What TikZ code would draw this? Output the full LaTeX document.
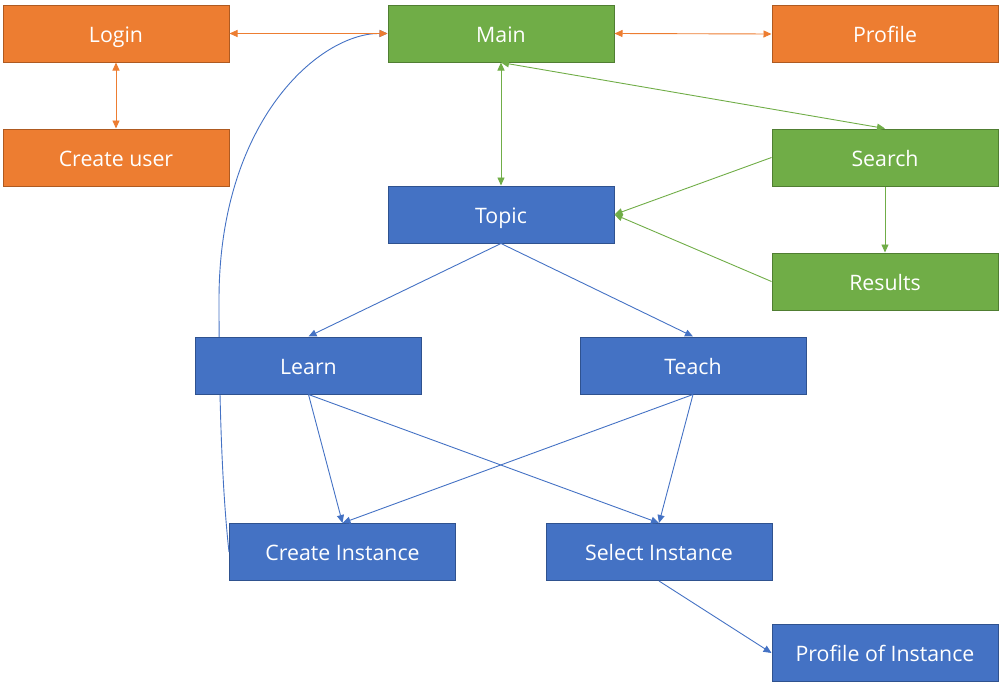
\documentclass[tikz,border=0pt]{standalone}
\usepackage{fontspec}
\setmainfont{Open Sans}
\usetikzlibrary{arrows.meta}
\definecolor{org}{HTML}{ED7D31}
\definecolor{orgd}{HTML}{AE5A21}
\definecolor{grn}{HTML}{70AD47}
\definecolor{grnd}{HTML}{507E32}
\definecolor{blu}{HTML}{4472C4}
\definecolor{blud}{HTML}{2F528F}
\tikzset{
  box/.style={rectangle, minimum width=226pt, minimum height=57pt, inner sep=0pt,
    text=white, font=\fontsize{21.3}{25}\selectfont, text height=17pt, text depth=0pt, line width=1pt},
  obox/.style={box, fill=org, draw=orgd},
  gbox/.style={box, fill=grn, draw=grnd},
  bbox/.style={box, fill=blu, draw=blud},
  conn/.style={line width=0.9pt, -{Triangle[length=8pt,width=7pt]}},
  dconn/.style={line width=0.9pt, {Triangle[length=8pt,width=7pt]}-{Triangle[length=8pt,width=7pt]}},
}
\begin{document}
\begin{tikzpicture}[x=1pt,y=-1pt]
\useasboundingbox (0,0) rectangle (1005,688);
\coordinate (mid) at (219,300);
\node[obox] (login) at (116,33.5) {Login};
\node[gbox] (main) at (501,33.5) {Main};
\node[obox] (profile) at (885,34) {Profile};
\node[obox] (cuser) at (116,157.5) {Create user};
\node[gbox] (search) at (885,157.5) {Search};
\node[bbox] (topic) at (501,214.5) {Topic};
\node[gbox] (results) at (885,281.5) {Results};
\node[bbox] (ci) at (342.5,552) {Create Instance};
\node[bbox] (si) at (659,552) {Select Instance};
\node[bbox] (poi) at (885,653) {Profile of Instance};
% curve drawn before Learn so that Learn covers it
\draw[conn, blu] (ci.west) .. controls (221,480) and (219,380) .. (mid) .. controls (219,120) and (320,33) .. (main.west);
\node[bbox] (learn) at (308.5,365.5) {Learn};
\node[bbox] (teach) at (693,365.5) {Teach};
% orange
\draw[dconn, org] (login.east) -- (main.west);
\draw[dconn, org] (main.east) -- (profile.west);
\draw[dconn, org] (login.south) -- (cuser.north);
% green
\draw[dconn, grn] (main.south) -- (topic.north);
\draw[dconn, grn] (main.south) -- (search.north);
\draw[conn, grn] (search.west) -- (topic.east);
\draw[conn, grn] (results.west) -- (topic.east);
\draw[conn, grn] (search.south) -- (results.north);
% blue
\draw[conn, blu] (topic.south) -- (learn.north);
\draw[conn, blu] (topic.south) -- (teach.north);
\draw[conn, blu] (learn.south) -- (ci.north);
\draw[conn, blu] (learn.south) -- (si.north);
\draw[conn, blu] (teach.south) -- (ci.north);
\draw[conn, blu] (teach.south) -- (si.north);
\draw[conn, blu] (si.south) -- (poi.west);
\end{tikzpicture}
\end{document}
